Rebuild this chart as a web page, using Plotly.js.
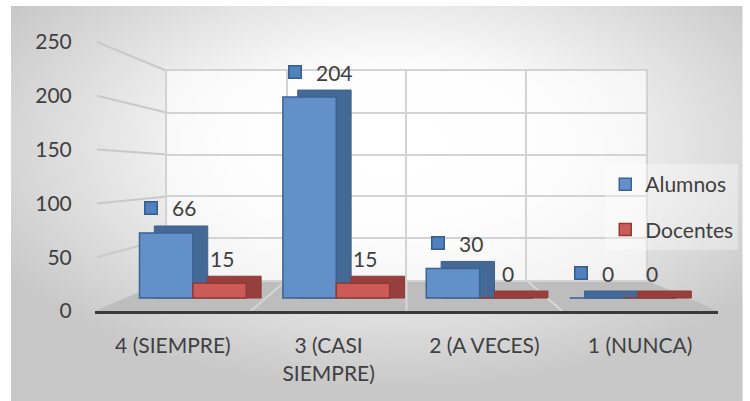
<!DOCTYPE html>
<html><head><meta charset="utf-8">
<script src="https://cdn.plot.ly/plotly-3.0.1.min.js"></script>
<style>html,body{margin:0;padding:0;background:#fff;}#chart{width:750px;height:401px;}</style>
</head><body><div id="chart"></div>
<script>
// ---- data ----
const categories = ['4 (SIEMPRE)', '3 (CASI<br>SIEMPRE)', '2 (A VECES)', '1 (NUNCA)'];
const alumnos = [66, 204, 30, 0];
const docentes = [15, 15, 0, 0];
const yTicks = [0, 50, 100, 150, 200, 250];
const seriesNames = ['Alumnos', 'Docentes'];

// ---- geometry (pixels) ----
const L = 95, R = 725, T = 42, B = 311;          // front plot area
const xp = p => (p - L) / (R - L);
const yp = p => (B - p) / (B - T);
const wall = {l: 168, r: 652, b: 280, t: 71};   // back wall
const bars = {l: 121.5, r: 701.5, zero: 298, scale: 0.985};
const depth = {dx: 15, dy: 7};
const catPx = (bars.r - bars.l) / categories.length;
const bw = 54 / catPx;
const dxU = depth.dx / catPx;
const dyU = depth.dy / bars.scale;
const yMax = yTicks[yTicks.length - 1];

const font = {family: "Lato, 'Liberation Sans', sans-serif", size: 21, color: '#404040'};
const blue = {front: '#6390c9', side: '#456995', line: '#3a6294', key: '#4f81bd', keyLine: '#385d8a'};
const red = {front: '#cc5b57', side: '#963f3c', line: '#8f3a37', key: '#c0504d', keyLine: '#8c3836'};

const traces = [
  {type: 'scatter', x: categories, y: categories.map(() => 0), mode: 'markers', marker: {opacity: 0},
   showlegend: false, hoverinfo: 'skip', xaxis: 'x', yaxis: 'y'},
  {type: 'scatter', x: [0], y: [0], mode: 'markers', marker: {opacity: 0},
   showlegend: false, hoverinfo: 'skip', xaxis: 'x2', yaxis: 'y2'},
  {type: 'bar', x: categories, y: alumnos.map(v => v + dyU), offset: -bw + dxU, width: bw,
   marker: {color: blue.side, line: {color: blue.line, width: 1}}, showlegend: false, hoverinfo: 'skip',
   legendgroup: 'a', xaxis: 'x3', yaxis: 'y3'},
  {type: 'bar', x: categories, y: docentes.map(v => v + dyU), offset: dxU, width: bw,
   marker: {color: red.side, line: {color: red.line, width: 1}}, showlegend: false, hoverinfo: 'skip',
   legendgroup: 'd', xaxis: 'x3', yaxis: 'y3'},
  {type: 'bar', name: seriesNames[0], x: categories, y: alumnos, offset: -bw, width: bw,
   marker: {color: blue.front, line: {color: blue.line, width: 1.5}}, legendgroup: 'a', xaxis: 'x3', yaxis: 'y3'},
  {type: 'bar', name: seriesNames[1], x: categories, y: docentes, offset: 0, width: bw,
   marker: {color: red.front, line: {color: red.line, width: 1.5}}, legendgroup: 'd', xaxis: 'x3', yaxis: 'y3'}
];

// ---- decorative 3D scaffolding (paper coords) ----
const wl = xp(wall.l), wr = xp(wall.r), wb = yp(wall.b), wt = yp(wall.t);
const shapes = [
  {type: 'rect', xref: 'paper', yref: 'paper', x0: wl, x1: wr, y0: wb, y1: wt,
   fillcolor: 'rgba(255,255,255,0.6)', line: {width: 0}, layer: 'below'},
  {type: 'path', xref: 'paper', yref: 'paper', layer: 'below',
   path: `M0,0 L1,0 L${wr},${wb} L${wl},${wb} Z`, fillcolor: '#bdbdbd', line: {width: 0}}
];
yTicks.filter(v => v > 0).forEach(v => {
  shapes.push({type: 'line', xref: 'paper', yref: 'paper', layer: 'below',
    x0: xp(97), y0: v / yMax, x1: wl, y1: wb + (v / yMax) * (wt - wb),
    line: {color: '#c9c9c9', width: 2}});
});
for (let k = 1; k < categories.length; k++) {
  shapes.push({type: 'line', xref: 'paper', yref: 'paper', layer: 'below',
    x0: wl + k * (wr - wl) / categories.length, y0: wb, x1: k / categories.length, y1: 0,
    line: {color: '#d6d6d6', width: 2}});
}

// ---- data labels ----
const annotations = [];
alumnos.forEach((v, i) => {
  annotations.push({x: i - bw / 2, y: v, xref: 'x3', yref: 'y3', text: String(v), showarrow: false,
    xanchor: 'left', yanchor: 'middle', xshift: 4, yshift: 25, font: font});
  annotations.push({x: i - bw / 2, y: v, xref: 'x3', yref: 'y3', text: ' ', showarrow: false,
    width: 11, height: 11, bgcolor: blue.key, bordercolor: blue.keyLine, borderwidth: 1.5, borderpad: 0,
    font: {size: 4}, xanchor: 'center', yanchor: 'middle', xshift: -15, yshift: 25});
});
docentes.forEach((v, i) => {
  annotations.push({x: i + bw / 2, y: v, xref: 'x3', yref: 'y3', text: String(v), showarrow: false,
    xanchor: 'center', yanchor: 'middle', xshift: 2, yshift: 25, font: font});
});

// ---- background gradient ----
const svg = "<svg xmlns='http://www.w3.org/2000/svg' width='740' height='395' viewBox='0 0 740 395' preserveAspectRatio='none'>" +
  "<defs><radialGradient id='g' cx='0.52' cy='0.35' r='0.62'>" +
  "<stop offset='0' stop-color='#ffffff'/><stop offset='0.35' stop-color='#fbfbfb'/>" +
  "<stop offset='1' stop-color='#c8c8c8'/></radialGradient></defs>" +
  "<rect width='740' height='395' fill='url(#g)'/></svg>";
const bgSrc = 'data:image/svg+xml;charset=utf-8,' + encodeURIComponent(svg);

const layout = {
  width: 750, height: 401,
  margin: {l: L, r: 750 - R, t: T, b: 401 - B, pad: 0},
  paper_bgcolor: '#ffffff', plot_bgcolor: 'rgba(0,0,0,0)',
  font: font, showlegend: true, barmode: 'overlay',
  images: [{source: bgSrc, xref: 'paper', yref: 'paper', x: xp(10), y: yp(6),
    sizex: xp(750) - xp(10), sizey: yp(6) - yp(401), xanchor: 'left', yanchor: 'top',
    sizing: 'stretch', layer: 'below'}],
  xaxis: {domain: [0, 1], type: 'category', range: [-0.5, categories.length - 0.5], showgrid: false,
    zeroline: false, showline: true, linecolor: '#3a3a3a', linewidth: 3, ticks: 'outside', ticklen: 14,
    tickcolor: 'rgba(0,0,0,0)', tickfont: font, fixedrange: true, anchor: 'y'},
  yaxis: {domain: [0, 1], range: [0, yMax], tickvals: yTicks, showgrid: false, zeroline: false,
    showline: false, ticks: 'outside', ticklen: 18, tickcolor: 'rgba(0,0,0,0)', tickfont: font,
    fixedrange: true, anchor: 'x'},
  xaxis2: {domain: [wl, wr], range: [0, categories.length], dtick: 1, showgrid: true, gridcolor: '#d3d3d3',
    gridwidth: 2, zeroline: false, showticklabels: false, showline: true, mirror: true,
    linecolor: '#d3d3d3', linewidth: 2, anchor: 'y2', fixedrange: true},
  yaxis2: {domain: [wb, wt], range: [0, yMax], tickvals: yTicks, showgrid: true, gridcolor: '#d3d3d3',
    gridwidth: 2, zeroline: false, showticklabels: false, showline: true, mirror: true,
    linecolor: '#d3d3d3', linewidth: 2, anchor: 'x2', fixedrange: true},
  xaxis3: {domain: [xp(bars.l), xp(bars.r)], type: 'category', range: [-0.5, categories.length - 0.5],
    visible: false, anchor: 'y3', fixedrange: true},
  yaxis3: {domain: [0, 1], range: [-(B - bars.zero) / bars.scale, (bars.zero - T) / bars.scale],
    visible: false, anchor: 'x3', fixedrange: true},
  legend: {x: xp(611), y: yp(164), xanchor: 'left', yanchor: 'top', bgcolor: 'rgba(255,255,255,0.35)',
    font: font, tracegroupgap: 15, itemwidth: 30, borderwidth: 0},
  shapes: shapes,
  annotations: annotations
};

Plotly.newPlot('chart', traces, layout, {displayModeBar: false, staticPlot: true});
</script></body></html>
